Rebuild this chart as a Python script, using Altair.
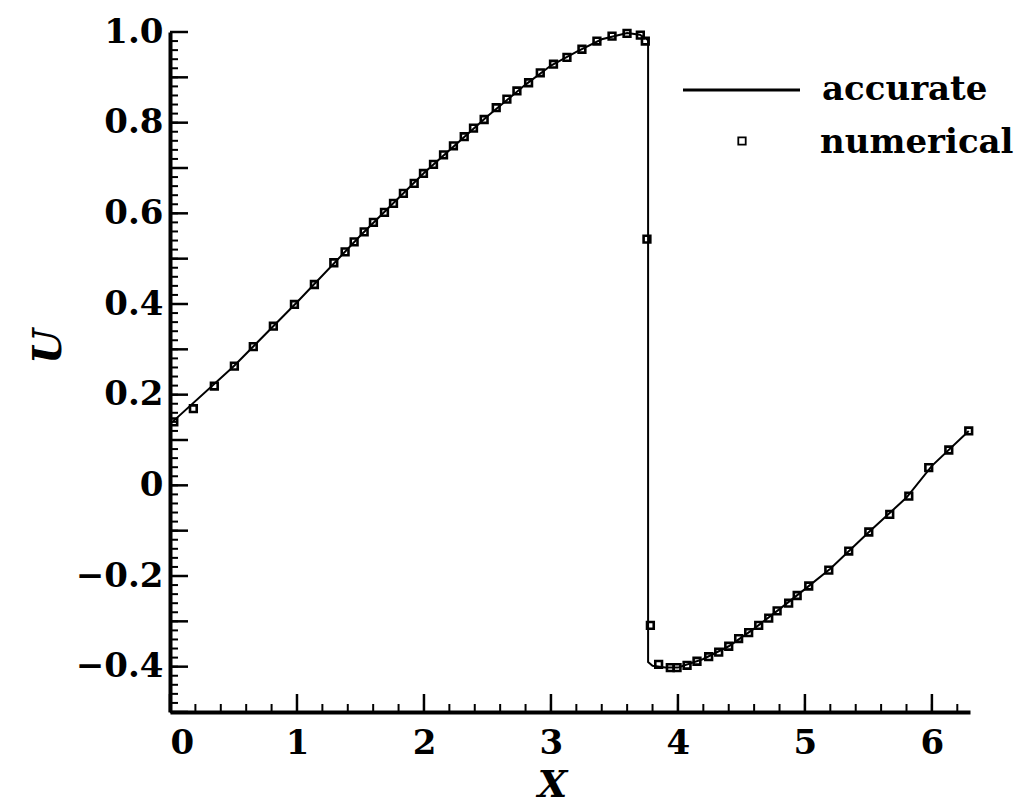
import altair as alt
import pandas as pd

# numerical solution (squares)
num_x = [0.03, 0.184, 0.349, 0.507, 0.656, 0.814, 0.980, 1.137, 1.290, 1.379, 1.450,
         1.529, 1.602, 1.689, 1.760, 1.838, 1.923, 1.996, 2.075, 2.154, 2.232, 2.317,
         2.390, 2.474, 2.569, 2.653, 2.732, 2.824, 2.916, 3.020, 3.126, 3.244, 3.362,
         3.481, 3.599, 3.704, 3.743, 3.756, 3.783, 3.848, 3.940, 3.993, 4.072, 4.150,
         4.242, 4.321, 4.400, 4.478, 4.557, 4.636, 4.715, 4.781, 4.872, 4.939, 5.030,
         5.188, 5.345, 5.503, 5.668, 5.818, 5.975, 6.133, 6.290]
num_u = [0.140, 0.169, 0.219, 0.263, 0.306, 0.351, 0.399, 0.443, 0.491, 0.515, 0.537,
         0.559, 0.580, 0.602, 0.622, 0.644, 0.666, 0.688, 0.708, 0.729, 0.749, 0.769,
         0.788, 0.807, 0.833, 0.852, 0.870, 0.888, 0.910, 0.929, 0.944, 0.962, 0.980,
         0.991, 0.997, 0.993, 0.980, 0.543, -0.309, -0.395, -0.402, -0.402, -0.397, -0.388,
         -0.378, -0.368, -0.355, -0.338, -0.325, -0.309, -0.293, -0.277, -0.260, -0.243, -0.222,
         -0.187, -0.145, -0.103, -0.064, -0.024, 0.039, 0.078, 0.120]

# accurate solution (line)
acc_x = [0.0, 0.5, 1.0, 1.5, 2.0, 2.5, 2.8, 3.0, 3.2, 3.4, 3.6, 3.7, 3.765, 3.765,
         3.80, 3.9, 4.0, 4.2, 4.4, 4.6, 4.8, 5.0, 5.2, 5.5, 5.8, 6.0, 6.29]
acc_u = [0.135, 0.262, 0.404, 0.551, 0.689, 0.814, 0.884, 0.926, 0.956, 0.984, 0.998,
         0.994, 0.982, -0.390, -0.398, -0.402, -0.402, -0.383, -0.355, -0.316, -0.273,
         -0.229, -0.184, -0.104, -0.027, 0.043, 0.120]

x_major = [0, 1, 2, 3, 4, 5, 6]
x_minor = [round(i * 0.2, 2) for i in range(32)]
y_major = [round(-0.5 + i * 0.1, 2) for i in range(16)]
y_minor = [round(-0.5 + i * 0.02, 2) for i in range(76)]
y_labels = [-0.4, -0.2, 0.0, 0.2, 0.4, 0.6, 0.8, 1.0]

legend_names = ["accurate", "numerical"]

W, H = 800, 680
FONT = "DejaVu Serif"

acc_df = pd.DataFrame({"x": acc_x, "u": acc_u, "o": list(range(len(acc_x)))})
num_df = pd.DataFrame({"x": num_x, "u": num_u})

xscale = alt.Scale(domain=[0, 6.3], nice=False, zero=False)
yscale = alt.Scale(domain=[-0.5, 1.0], nice=False, zero=False)

xaxis = alt.Axis(
    values=x_major, format="d", grid=False, ticks=False, tickSize=0,
    domainColor="black", domainWidth=4,
    labelFont=FONT, labelFontWeight="bold", labelFontSize=34, labelColor="black",
    labelPadding=14,
    titleFont=FONT, titleFontStyle="italic", titleFontWeight="bold", titleFontSize=38,
    titleColor="black", titleX=382, titleY=84, titleBaseline="alphabetic", titleAlign="center",
)
yaxis = alt.Axis(
    values=y_labels, grid=False, ticks=False, tickSize=0,
    labelExpr="datum.value == 0 ? '0' : (datum.value < 0 ? '\u2212' + format(-datum.value, '.1f') : format(datum.value, '.1f'))",
    domainColor="black", domainWidth=4,
    labelFont=FONT, labelFontWeight="bold", labelFontSize=34, labelColor="black",
    labelPadding=7,
    titleFont=FONT, titleFontStyle="italic", titleFontWeight="bold", titleFontSize=40,
    titleColor="black", titleX=-110, titleY=314, titleAngle=270,
    titleBaseline="alphabetic", titleAlign="center",
)

X = lambda f: alt.X(f, type="quantitative", scale=xscale, axis=xaxis, title="X")
Y = lambda f: alt.Y(f, type="quantitative", scale=yscale, axis=yaxis, title="U")

acc_line = alt.Chart(acc_df).mark_line(color="black", strokeWidth=2).encode(
    x=X("x"), y=Y("u"), order="o:Q"
)
num_pts = alt.Chart(num_df).mark_point(
    shape="square", filled=False, color="black", strokeWidth=2.6, size=45, opacity=1
).encode(x=X("x"), y=Y("u"))

yt_major = alt.Chart(pd.DataFrame({"v": y_major})).mark_rule(color="black", strokeWidth=2.5).encode(
    y=Y("v"), x=alt.value(0), x2=alt.value(18)
)
yt_minor = alt.Chart(pd.DataFrame({"v": y_minor})).mark_rule(color="black", strokeWidth=2).encode(
    y=Y("v"), x=alt.value(0), x2=alt.value(8)
)
xt_major = alt.Chart(pd.DataFrame({"v": x_major})).mark_rule(color="black", strokeWidth=2.5).encode(
    x=X("v"), y=alt.value(H), y2=alt.value(H - 18)
)
xt_minor = alt.Chart(pd.DataFrame({"v": x_minor})).mark_rule(color="black", strokeWidth=2).encode(
    x=X("v"), y=alt.value(H), y2=alt.value(H - 8)
)

leg_line = alt.Chart(pd.DataFrame({"t": [legend_names[0]]})).mark_rule(
    color="black", strokeWidth=3
).encode(x=alt.value(513), x2=alt.value(630), y=alt.value(58))
leg_sq = alt.Chart(pd.DataFrame({"t": [legend_names[1]]})).mark_point(
    shape="square", filled=False, color="black", strokeWidth=1.8, size=55, opacity=1
).encode(x=alt.value(572), y=alt.value(109))
leg_t1 = alt.Chart(pd.DataFrame({"t": [legend_names[0]]})).mark_text(
    align="left", baseline="alphabetic", font=FONT, fontWeight="bold", fontSize=34, color="black"
).encode(x=alt.value(652), y=alt.value(68), text="t:N")
leg_t2 = alt.Chart(pd.DataFrame({"t": [legend_names[1]]})).mark_text(
    align="left", baseline="alphabetic", font=FONT, fontWeight="bold", fontSize=34, color="black"
).encode(x=alt.value(650), y=alt.value(121), text="t:N")

chart = alt.layer(
    yt_minor, yt_major, xt_minor, xt_major, acc_line, num_pts,
    leg_line, leg_sq, leg_t1, leg_t2
).properties(
    width=W, height=H,
    autosize=alt.AutoSizeParams(type="none"),
    padding={"left": 170, "top": 32, "right": 51, "bottom": 96},
    background="white",
).configure_view(stroke=None)

chart.save("out.html", embed_options={"renderer": "svg", "actions": False})
